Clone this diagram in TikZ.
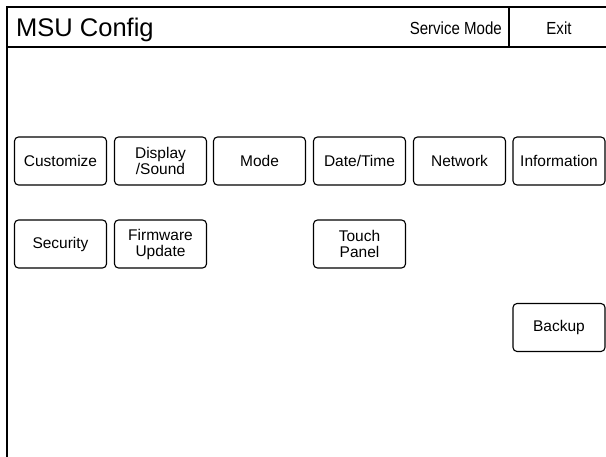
\documentclass[tikz,border=0pt]{standalone}
\usepackage{fontspec}
\setmainfont{Liberation Sans}
\newfontfamily\hdrfont[FakeStretch=0.86]{Liberation Sans}
\tikzset{
  btn/.style={draw,rounded corners=4pt,line width=1.1pt,minimum width=92pt,
    minimum height=48pt,align=center,inner sep=0pt,
    font=\fontsize{15.5}{16}\selectfont},
}
\begin{document}
\begin{tikzpicture}[x=1pt,y=-1pt]
    \useasboundingbox (0,0) rectangle (606,457);
    \draw[line width=1.2pt] (7,7)--(606,7);
    \draw[line width=1.2pt] (7,47)--(606,47);
    \draw[line width=1.2pt] (509,7)--(509,47);
    \draw[line width=2.2pt] (7,6.4)--(7,457);
    \node[anchor=base west,inner sep=0pt,font=\fontsize{25.5}{25}\selectfont] (title) at (16,36.5) {MSU Config};
    \node[anchor=base east,inner sep=0pt,font=\hdrfont\fontsize{17.5}{17}\selectfont] (svc) at (502,35) {Service Mode};
    \node[anchor=base,inner sep=0pt,font=\hdrfont\fontsize{17.5}{17}\selectfont] (exit) at (559,35) {Exit};
    % first row
    \node[btn] (cust) at (60.5,161) {Customize};
    \node[btn] (disp) at (160.5,161) {Display\\/Sound};
    \node[btn] (mode) at (259.5,161) {Mode};
    \node[btn] (date) at (359.5,161) {Date/Time};
    \node[btn] (net) at (459.5,161) {Network};
    \node[btn] (info) at (559,161) {Information};
    % second row
    \node[btn] (sec) at (60.5,244) {Security};
    \node[btn] (firm) at (160.5,244) {Firmware\\Update};
    \node[btn] (touch) at (359.5,244) {Touch\\Panel};
    \node[btn] (back) at (559,327.5) {Backup};
\end{tikzpicture}
\end{document}
